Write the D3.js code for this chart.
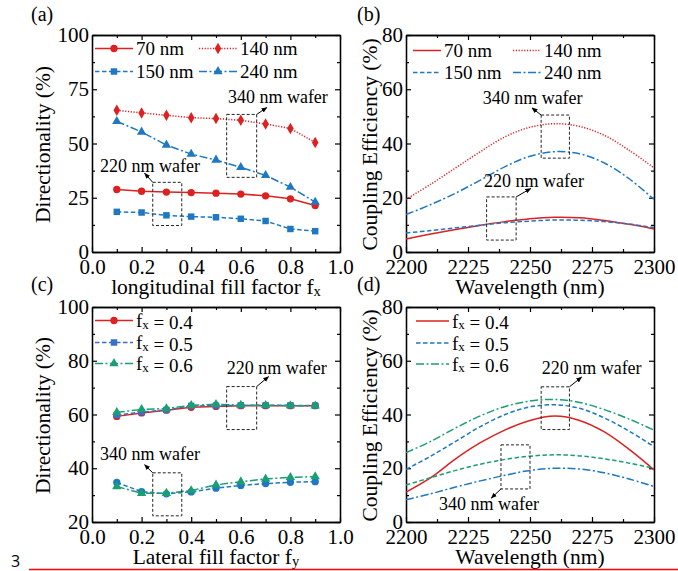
<!DOCTYPE html>
<html>
<head>
<meta charset="utf-8">
<script src="https://cdn.jsdelivr.net/npm/d3@7"></script>
<style>
  body { margin: 0; background: #fff; }
</style>
</head>
<body>
<script>
// ---- data ----
var fillFactor = [0.1, 0.2, 0.3, 0.4, 0.5, 0.6, 0.7, 0.8, 0.9];
var dirA_70  = [28.8, 28.0, 27.6, 27.4, 27.1, 26.7, 25.9, 24.5, 21.4];
var dirA_140 = [65.3, 64.1, 63.0, 61.9, 61.5, 60.7, 59.0, 56.9, 50.5];
var dirA_150 = [18.5, 18.2, 16.9, 16.3, 16.0, 15.3, 14.3, 10.6, 9.6];
var dirA_240 = [60.2, 55.3, 49.3, 45.1, 42.4, 39.0, 35.3, 29.9, 23.0];

var wavelength = [2200, 2210, 2220, 2230, 2240, 2250, 2260, 2270, 2280, 2290, 2300];
var ceB_70  = [4.8, 6.6, 8.3, 9.9, 11.2, 12.3, 12.8, 12.6, 11.6, 10.2, 8.5];
var ceB_140 = [19.4, 25.0, 31.0, 37.0, 42.5, 46.0, 47.3, 46.3, 43.0, 37.5, 31.0];
var ceB_150 = [7.0, 7.9, 8.9, 9.9, 10.8, 11.4, 11.8, 11.7, 11.2, 10.3, 9.0];
var ceB_240 = [13.8, 17.5, 21.7, 26.5, 31.5, 35.3, 37.0, 36.2, 32.8, 27.0, 19.4];

var dirC_04     = [59.3, 60.6, 61.6, 62.7, 63.0, 63.3, 63.3, 63.3, 63.3];
var dirC_05     = [59.8, 60.9, 61.7, 63.2, 63.3, 63.4, 63.4, 63.4, 63.3];
var dirC_06     = [60.8, 61.9, 62.2, 63.4, 63.8, 63.5, 63.4, 63.3, 63.2];
var dirC_05_340 = [34.7, 31.3, 30.5, 31.2, 32.6, 33.6, 34.3, 34.8, 35.0];
var dirC_06_340 = [33.2, 30.7, 30.7, 31.7, 33.8, 35.0, 36.0, 36.6, 36.9];

var ceD_04     = [11.1, 16.5, 23.5, 29.5, 34.3, 37.8, 39.4, 37.8, 33.5, 27.0, 19.4];
var ceD_05     = [19.6, 24.5, 30.0, 35.5, 40.0, 42.8, 43.6, 42.3, 38.7, 33.8, 28.0];
var ceD_06     = [25.8, 30.0, 35.0, 39.5, 43.0, 45.0, 45.6, 44.5, 41.8, 38.3, 34.2];
var ceD_06_340 = [13.8, 16.5, 19.2, 21.5, 23.3, 24.5, 25.0, 24.6, 23.5, 21.9, 20.0];
var ceD_05_340 = [8.3, 10.5, 13.0, 15.3, 17.4, 19.2, 20.0, 19.7, 18.3, 16.0, 13.2];

var ticksFF = [0, 0.2, 0.4, 0.6, 0.8, 1.0];
var ticksWL = [2200, 2225, 2250, 2275, 2300];

// ---- styles ----
var SERIF = "'Liberation Serif', monospace";
var RED = "#dd2020", BLUE = "#1f78c1", BLUE2 = "#3a6fc4", GREEN = "#1a9e74";
var SOLID = null, DOT = "1.2,1.6", DASH = "4.5,2.5", DASHDOT = "8,2.5,2,2.5";

var W = 678, H = 571;
var svg = d3.select("body").append("svg").attr("width", W).attr("height", H);

var defs = svg.append("defs");
defs.append("marker").attr("id", "arr").attr("viewBox", "0 0 10 10")
    .attr("refX", 9).attr("refY", 5).attr("markerWidth", 6).attr("markerHeight", 6)
    .attr("orient", "auto-start-reverse")
  .append("path").attr("d", "M0,1 L10,5 L0,9 z").attr("fill", "#000");

function minors(ticks) {
  var m = [];
  for (var i = 0; i < ticks.length - 1; i++) m.push((ticks[i] + ticks[i + 1]) / 2);
  return m;
}

function styleAxis(g) {
  g.attr("font-size", 21).attr("font-family", null);
  g.selectAll("text").attr("fill", "#000").style("font-family", SERIF);
  g.selectAll("line").attr("stroke", "#000").attr("stroke-width", 1.2);
  g.select(".domain").attr("stroke", "#000").attr("stroke-width", 1.3);
}

function addText(sel, parts, x, y, size, anchor) {
  var t = sel.append("text").attr("x", x).attr("y", y)
      .style("font-family", SERIF).attr("font-size", size).attr("fill", "#000")
      .attr("text-anchor", anchor || "start");
  parts.forEach(function (p) {
    if (typeof p === "string") t.append("tspan").text(p);
    else t.append("tspan").attr("font-size", size * 0.68).attr("dy", size * 0.1).text(p.sub)
          .clone(true).text("").attr("dy", -size * 0.1);
  });
  return t;
}

function panel(p) {
  var x = d3.scaleLinear().domain(p.xDomain).range([p.x0, p.x1]);
  var y = d3.scaleLinear().domain(p.yDomain).range([p.y1, p.y0]);
  var g = svg.append("g");

  var xMin = minors(p.xTicks), yMin = minors(p.yTicks);

  // bottom + left with labels
  g.append("g").attr("transform", "translate(0," + p.y1 + ")")
    .call(d3.axisBottom(x).tickValues(p.xTicks).tickSize(-5).tickSizeOuter(0)
      .tickPadding(7).tickFormat(p.xFmt)).call(styleAxis);
  g.append("g").attr("transform", "translate(0," + p.y1 + ")")
    .call(d3.axisBottom(x).tickValues(xMin).tickSize(-3).tickSizeOuter(0).tickFormat(""))
    .call(styleAxis);
  g.append("g").attr("transform", "translate(" + p.x0 + ",0)")
    .call(d3.axisLeft(y).tickValues(p.yTicks).tickSize(-5).tickSizeOuter(0)
      .tickPadding(3)).call(styleAxis);
  g.append("g").attr("transform", "translate(" + p.x0 + ",0)")
    .call(d3.axisLeft(y).tickValues(yMin).tickSize(-3).tickSizeOuter(0).tickFormat(""))
    .call(styleAxis);
  // top + right, ticks only
  [[p.xTicks, 5], [xMin, 3]].forEach(function (t) {
    g.append("g").attr("transform", "translate(0," + p.y0 + ")")
      .call(d3.axisTop(x).tickValues(t[0]).tickSize(-t[1]).tickSizeOuter(0).tickFormat(""))
      .call(styleAxis);
  });
  [[p.yTicks, 5], [yMin, 3]].forEach(function (t) {
    g.append("g").attr("transform", "translate(" + p.x1 + ",0)")
      .call(d3.axisRight(y).tickValues(t[0]).tickSize(-t[1]).tickSizeOuter(0).tickFormat(""))
      .call(styleAxis);
  });

  // series
  p.series.forEach(function (s) {
    var line = d3.line().x(function (d, i) { return x(s.xs[i]); })
      .y(function (d) { return y(d); })
      .curve(s.smooth ? d3.curveCatmullRom.alpha(0.5) : d3.curveLinear);
    g.append("path").datum(s.ys).attr("d", line).attr("fill", "none")
      .attr("stroke", s.color).attr("stroke-width", 1.5)
      .attr("stroke-dasharray", s.dash);
    if (s.symbol) {
      g.selectAll(null).data(s.ys).enter().append("path")
        .attr("transform", function (d, i) { return "translate(" + x(s.xs[i]) + "," + y(d) + ")"; })
        .attr("d", d3.symbol().type(s.symbol).size(s.size || 36))
        .attr("fill", s.color);
    }
  });

  // annotations
  p.notes.forEach(function (n) {
    g.append("rect").attr("x", x(n.box[0])).attr("y", y(n.box[3]))
      .attr("width", x(n.box[1]) - x(n.box[0])).attr("height", y(n.box[2]) - y(n.box[3]))
      .attr("fill", "none").attr("stroke", "#222").attr("stroke-width", 1)
      .attr("stroke-dasharray", "3,2");
    g.append("line").attr("x1", x(n.arrow[0])).attr("y1", y(n.arrow[1]))
      .attr("x2", x(n.arrow[2])).attr("y2", y(n.arrow[3]))
      .attr("stroke", "#000").attr("stroke-width", 1).attr("marker-end", "url(#arr)");
    addText(g, [n.text], x(n.at[0]), y(n.at[1]), 18);
  });

  // legend
  p.legend.forEach(function (l) {
    var s = p.series[l.idx];
    g.append("line").attr("x1", l.x).attr("x2", l.x + p.legW).attr("y1", l.y).attr("y2", l.y)
      .attr("stroke", s.color).attr("stroke-width", 1.5).attr("stroke-dasharray", s.dash);
    if (s.symbol) {
      g.append("path").attr("transform", "translate(" + (l.x + p.legW / 2) + "," + l.y + ")")
        .attr("d", d3.symbol().type(s.symbol).size(s.size || 36)).attr("fill", s.color);
    }
    addText(g, l.label, l.x + p.legW + 3, l.y + 6.5, 19);
  });

  // titles
  addText(g, p.xTitle, (p.x0 + p.x1) / 2, p.y1 + 42, 21.5, "middle");
  addText(g, p.yTitle, 0, 0, 21.5, "middle")
    .attr("transform", "translate(" + p.yTitleX + "," + ((p.y0 + p.y1) / 2 + 1) + ") rotate(-90)");
  addText(svg, [p.tag], p.tagX, p.tagY, 20);
}

var ff = d3.format(".1f");
var fx = function (v) { return ["f", { sub: "x" }, " = " + v]; };

panel({
  x0: 92, x1: 340, y0: 35, y1: 252, xDomain: [0, 1], yDomain: [0, 100],
  xTicks: ticksFF, yTicks: [0, 25, 50, 75, 100], xFmt: ff,
  xTitle: ["longitudinal fill factor f", { sub: "x" }], yTitle: ["Directionality (%)"], yTitleX: 50,
  tag: "(a)", tagX: 31, tagY: 21,
  series: [
    { xs: fillFactor, ys: dirA_70, color: RED, dash: SOLID, symbol: d3.symbolCircle, size: 42 },
    { xs: fillFactor, ys: dirA_140, color: RED, dash: DOT, symbol: d3.symbolDiamond, size: 38 },
    { xs: fillFactor, ys: dirA_150, color: BLUE, dash: DASH, symbol: d3.symbolSquare, size: 42 },
    { xs: fillFactor, ys: dirA_240, color: BLUE, dash: DASHDOT, symbol: d3.symbolTriangle, size: 38 }
  ],
  legW: 38,
  legend: [
    { idx: 0, x: 95, y: 48.5, label: ["70 nm"] },
    { idx: 1, x: 199, y: 48.5, label: ["140 nm"] },
    { idx: 2, x: 95, y: 71.5, label: ["150 nm"] },
    { idx: 3, x: 199, y: 71.5, label: ["240 nm"] }
  ],
  notes: [
    { text: "220 nm wafer", at: [0.032, 37.0], box: [0.245, 0.362, 12.2, 32.1], arrow: [0.245, 32.1, 0.212, 36.3] },
    { text: "340 nm wafer", at: [0.548, 68.5], box: [0.543, 0.664, 34.4, 63.4], arrow: [0.664, 63.4, 0.705, 66.6] }
  ]
});

panel({
  x0: 406, x1: 654, y0: 35, y1: 252, xDomain: [2200, 2300], yDomain: [0, 80],
  xTicks: ticksWL, yTicks: [0, 20, 40, 60, 80], xFmt: d3.format("d"),
  xTitle: ["Wavelength (nm)"], yTitle: ["Coupling Efficiency (%)"], yTitleX: 377,
  tag: "(b)", tagX: 357, tagY: 21,
  series: [
    { xs: wavelength, ys: ceB_70, color: RED, dash: SOLID, smooth: true },
    { xs: wavelength, ys: ceB_140, color: RED, dash: DOT, smooth: true },
    { xs: wavelength, ys: ceB_150, color: BLUE, dash: DASH, smooth: true },
    { xs: wavelength, ys: ceB_240, color: BLUE, dash: DASHDOT, smooth: true }
  ],
  legW: 28,
  legend: [
    { idx: 0, x: 413, y: 50.5, label: ["70 nm"] },
    { idx: 1, x: 513, y: 50.5, label: ["140 nm"] },
    { idx: 2, x: 413, y: 72.5, label: ["150 nm"] },
    { idx: 3, x: 513, y: 72.5, label: ["240 nm"] }
  ],
  notes: [
    { text: "340 nm wafer", at: [2230.9, 54.6], box: [2254.5, 2265.9, 34.6, 50.5], arrow: [2254.5, 50.5, 2250.8, 53.1] },
    { text: "220 nm wafer", at: [2231.5, 24.1], box: [2232.5, 2244.4, 4.4, 20.3], arrow: [2244.4, 20.3, 2250.3, 23.4] }
  ]
});

panel({
  x0: 92, x1: 340, y0: 307, y1: 522, xDomain: [0, 1], yDomain: [20, 100],
  xTicks: ticksFF, yTicks: [20, 40, 60, 80, 100], xFmt: ff,
  xTitle: ["Lateral fill factor f", { sub: "y" }], yTitle: ["Directionality (%)"], yTitleX: 50,
  tag: "(c)", tagX: 31, tagY: 291,
  series: [
    { xs: fillFactor, ys: dirC_04, color: RED, dash: SOLID, symbol: d3.symbolCircle, size: 42 },
    { xs: fillFactor, ys: dirC_05, color: BLUE2, dash: DASH, symbol: d3.symbolSquare, size: 42 },
    { xs: fillFactor, ys: dirC_06, color: GREEN, dash: DASHDOT, symbol: d3.symbolTriangle, size: 38 },
    { xs: fillFactor, ys: dirC_05_340, color: BLUE, dash: DASH, symbol: d3.symbolCircle, size: 42 },
    { xs: fillFactor, ys: dirC_06_340, color: GREEN, dash: DASHDOT, symbol: d3.symbolTriangle, size: 38 }
  ],
  legW: 38,
  legend: [
    { idx: 0, x: 95, y: 320.5, label: fx("0.4") },
    { idx: 1, x: 95, y: 342.5, label: fx("0.5") },
    { idx: 2, x: 95, y: 363.5, label: fx("0.6") }
  ],
  notes: [
    { text: "220 nm wafer", at: [0.543, 75.1], box: [0.543, 0.664, 54.4, 70.4], arrow: [0.664, 70.4, 0.712, 74.1] },
    { text: "340 nm wafer", at: [0.032, 43.1], box: [0.245, 0.362, 22.3, 38.3], arrow: [0.245, 38.3, 0.212, 41.3] }
  ]
});

panel({
  x0: 406, x1: 654, y0: 307, y1: 522, xDomain: [2200, 2300], yDomain: [0, 80],
  xTicks: ticksWL, yTicks: [0, 20, 40, 60, 80], xFmt: d3.format("d"),
  xTitle: ["Wavelength (nm)"], yTitle: ["Coupling Efficiency (%)"], yTitleX: 377,
  tag: "(d)", tagX: 357, tagY: 291,
  series: [
    { xs: wavelength, ys: ceD_04, color: RED, dash: SOLID, smooth: true },
    { xs: wavelength, ys: ceD_05, color: BLUE, dash: DASH, smooth: true },
    { xs: wavelength, ys: ceD_06, color: GREEN, dash: DASHDOT, smooth: true },
    { xs: wavelength, ys: ceD_06_340, color: GREEN, dash: DASH, smooth: true },
    { xs: wavelength, ys: ceD_05_340, color: BLUE, dash: DASHDOT, smooth: true }
  ],
  legW: 33,
  legend: [
    { idx: 0, x: 416, y: 321, label: fx("0.4") },
    { idx: 1, x: 416, y: 343, label: fx("0.5") },
    { idx: 2, x: 416, y: 364, label: fx("0.6") }
  ],
  notes: [
    { text: "220 nm wafer", at: [2254.7, 55.1], box: [2254.5, 2265.9, 34.4, 50.3], arrow: [2265.9, 50.3, 2270.8, 53.9] },
    { text: "340 nm wafer", at: [2213.3, 4.5], box: [2238.3, 2250.0, 12.3, 28.7], arrow: [2238.3, 12.3, 2234.4, 8.9] }
  ]
});

// page footer: page number and red rule
svg.append("text").attr("x", 11).attr("y", 567)
  .style("font-family", "'Open Sans', sans-serif")
  .attr("font-size", 16).attr("fill", "#000").text("3");
svg.append("line").attr("x1", 29).attr("x2", W).attr("y1", 569.5).attr("y2", 569.5)
  .attr("stroke", "#ff0000").attr("stroke-width", 1.5);
</script>
</body>
</html>
